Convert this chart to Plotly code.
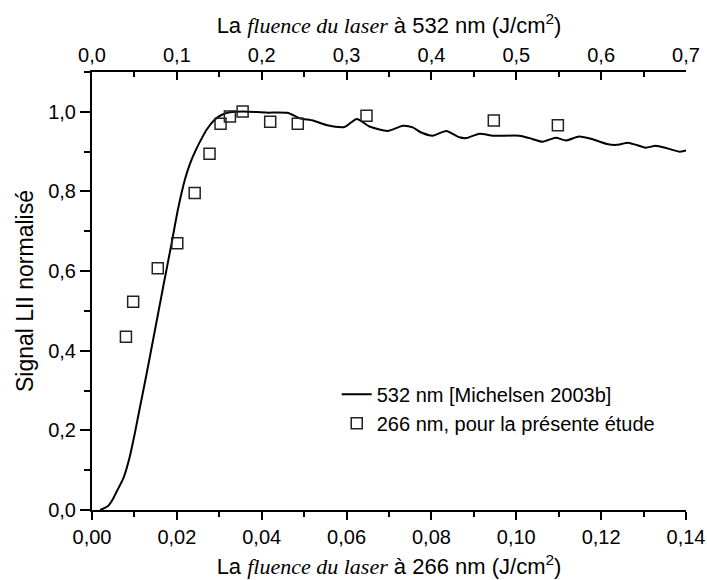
import plotly.graph_objects as go

# --- Data -------------------------------------------------------------
# 532 nm curve [Michelsen 2003b] (x in J/cm2 on the 266 nm scale)
curve_x = [0.0019, 0.0038, 0.0048, 0.0058, 0.0074, 0.0089, 0.0101, 0.0113, 0.0125,
           0.0133, 0.0140, 0.0152, 0.0168, 0.0188, 0.0203, 0.0219, 0.0231, 0.0246,
           0.0258, 0.0270, 0.0289, 0.0305, 0.0325, 0.0356, 0.0411, 0.0462, 0.0489,
           0.0521, 0.0552, 0.0595, 0.0624, 0.0654, 0.0697, 0.0733, 0.0756, 0.0776,
           0.0803, 0.0835, 0.0866, 0.0882, 0.0913, 0.0945, 0.1007, 0.1031, 0.1062,
           0.1093, 0.1117, 0.1148, 0.1180, 0.1211, 0.1235, 0.1266, 0.1305, 0.1329,
           0.1353, 0.1384, 0.1400]
curve_y = [0.000, 0.010, 0.025, 0.046, 0.080, 0.134, 0.193, 0.258, 0.322,
           0.366, 0.405, 0.472, 0.562, 0.672, 0.757, 0.830, 0.870, 0.907,
           0.932, 0.955, 0.980, 0.992, 0.999, 1.001, 0.998, 0.997, 0.984,
           0.978, 0.967, 0.962, 0.982, 0.963, 0.952, 0.965, 0.961, 0.948,
           0.940, 0.952, 0.936, 0.934, 0.945, 0.940, 0.940, 0.934, 0.925,
           0.935, 0.928, 0.938, 0.931, 0.920, 0.917, 0.922, 0.910, 0.915,
           0.909, 0.900, 0.903]

# 266 nm measurements (present study)
pts_x = [0.0080, 0.0097, 0.0155, 0.0201, 0.0242, 0.0277, 0.0303, 0.0325,
         0.0355, 0.0420, 0.0485, 0.0647, 0.0947, 0.1098]
pts_y = [0.435, 0.523, 0.607, 0.670, 0.796, 0.895, 0.970, 0.988,
         1.001, 0.975, 0.970, 0.990, 0.978, 0.966]

x_range = [0, 0.14]
x2_range = [0, 0.7]
y_range = [0, 1.1]

name_curve = "532 nm [Michelsen 2003b]"
name_pts = "266 nm, pour la présente étude"

FONT = "Liberation Sans, Arial, sans-serif"
ital = "<span style=\"font-family:'Liberation Serif', 'Times New Roman', serif;font-style:italic\">fluence du laser</span>"

fig = go.Figure()
fig.add_trace(go.Scatter(x=curve_x, y=curve_y, mode="lines", name=name_curve,
                         line=dict(color="black", width=2, shape="spline", smoothing=0.6)))
fig.add_trace(go.Scatter(x=pts_x, y=pts_y, mode="markers", name=name_pts,
                         marker=dict(symbol="square-open", size=11,
                                     color="#222222", line=dict(width=1.5, color="#222222"))))
# helper (invisible) trace to activate the top axis
fig.add_trace(go.Scatter(x=x2_range, y=[None, None], xaxis="x2", mode="markers",
                         showlegend=False, hoverinfo="skip", opacity=0))

axis_common = dict(showgrid=False, zeroline=False, showline=True, linecolor="black",
                   linewidth=2, tickcolor="black", tickwidth=2, automargin=False,
                   tickfont=dict(family=FONT, size=20, color="black"))

fig.update_layout(
    width=707, height=580,
    margin=dict(l=92, r=21, t=72, b=70),
    paper_bgcolor="white", plot_bgcolor="white",
    separators=", ",
    font=dict(family=FONT, size=20, color="black"),
    xaxis=dict(range=x_range, dtick=0.02, tick0=0, tickformat=".2f",
               ticks="outside", ticklen=8,
               minor=dict(dtick=0.01, ticks="outside", ticklen=5, tickwidth=2, tickcolor="black"),
               title=dict(text="La " + ital + " à 266 nm (J/cm<sup>2</sup>)",
                          font=dict(family=FONT, size=22), standoff=12),
               **axis_common),
    xaxis2=dict(range=x2_range, dtick=0.1, tick0=0, tickformat=".1f",
                overlaying="x", side="top", anchor="y",
                ticks="inside", ticklen=8,
                minor=dict(dtick=0.05, ticks="inside", ticklen=5, tickwidth=2, tickcolor="black"),
                title=dict(text="La " + ital + " à 532 nm (J/cm<sup>2</sup>)",
                           font=dict(family=FONT, size=22), standoff=4),
                **axis_common),
    yaxis=dict(range=y_range, dtick=0.2, tick0=0, tickformat=".1f",
               ticks="outside", ticklen=10,
               minor=dict(dtick=0.1, ticks="outside", ticklen=6, tickwidth=2, tickcolor="black"),
               title=dict(text="Signal LII normalisé", font=dict(family=FONT, size=23), standoff=8),
               **axis_common),
    legend=dict(x=0.412, y=0.309, xanchor="left", yanchor="top",
                bgcolor="rgba(0,0,0,0)", borderwidth=0,
                font=dict(family=FONT, size=20, color="black")),
    showlegend=True,
)

fig.write_html("out.html")
